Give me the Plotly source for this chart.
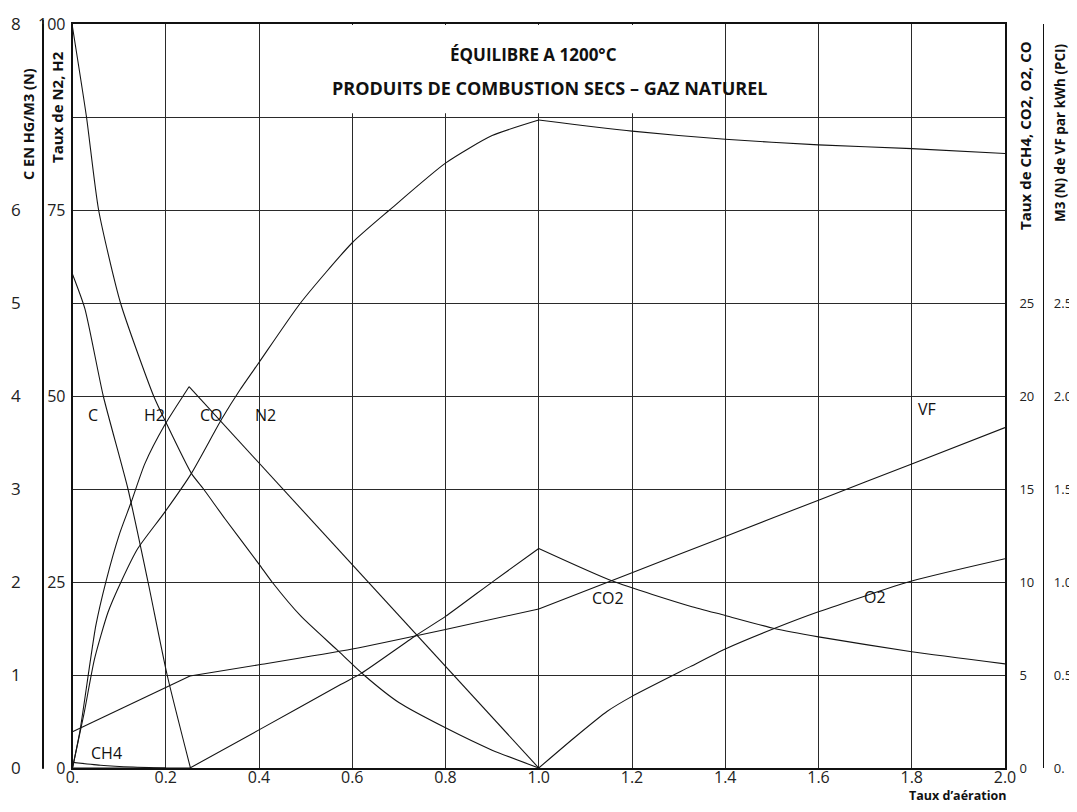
import plotly.graph_objects as go

# page has an 8px body margin: figure coordinates = page coordinates - 8
OFF = 8
W, H = 1077 - OFF, 812 - 2 * OFF
L_PLOT, R_PLOT, T_PLOT, B_PLOT = 72.5 - OFF, 1005 - OFF, 24 - OFF, 768 - OFF

# ---------------- data ----------------
aeration_ticks = [0, 0.2, 0.4, 0.6, 0.8, 1.0, 1.2, 1.4, 1.6, 1.8, 2.0]
aeration_labels = ["0.", "0.2", "0.4", "0.6", "0.8", "1.0", "1.2", "1.4", "1.6", "1.8", "2.0"]

# Carbone (hg/m3 (N)) - left outer axis 0..8
c_x = [0, 0.0265, 0.066, 0.119, 0.162, 0.203, 0.253]
c_y = [5.31, 4.94, 4.0, 3.0, 2.0, 1.0, 0.0]

# H2 (%) - axis 0..100
h2_x = [0, 0.03, 0.056, 0.103, 0.174, 0.2, 0.255, 0.281, 0.327, 0.4, 0.428, 0.49, 0.567, 0.625, 0.7, 0.8, 0.9, 1.0]
h2_y = [99.6, 87.5, 75.0, 62.5, 50.0, 46.5, 39.6, 37.5, 33.5, 27.4, 25.0, 20.4, 15.9, 12.5, 8.8, 5.4, 2.4, 0.0]

# N2 (%) - axis 0..100
n2_x = [0, 0.025, 0.047, 0.076, 0.104, 0.14, 0.198, 0.255, 0.32, 0.36, 0.4, 0.489, 0.6, 0.68, 0.8, 0.9, 1.0,
        1.2, 1.4, 1.6, 1.8, 2.0]
n2_y = [0, 7.4, 14.6, 20.9, 25.0, 29.5, 34.4, 39.6, 46.9, 50.9, 54.5, 62.5, 70.6, 75.0, 81.3, 85.0, 87.1,
        85.6, 84.5, 83.75, 83.25, 82.6]

# CO (%) - axis 0..40
co_x = [0, 0.016, 0.05, 0.072, 0.101, 0.126, 0.155, 0.198, 0.25, 1.0]
co_y = [0, 2.0, 7.65, 10.05, 12.6, 14.3, 16.35, 18.45, 20.5, 0.0]

# CO2 (%) - axis 0..40
co2_x = [0, 0.252, 0.4, 0.576, 0.62, 0.735, 0.8, 0.903, 1.0, 1.158, 1.325, 1.4, 1.505, 1.6, 1.8, 2.0]
co2_y = [0, 0.0, 2.05, 4.5, 5.1, 7.1, 8.15, 10.05, 11.8, 10.05, 8.7, 8.2, 7.5, 7.05, 6.25, 5.6]

# O2 (%) - axis 0..40
o2_x = [1.0, 1.075, 1.147, 1.2, 1.325, 1.4, 1.505, 1.6, 1.8, 2.0]
o2_y = [0.0, 1.6, 3.05, 3.85, 5.45, 6.4, 7.5, 8.4, 10.05, 11.25]

# CH4 (%) - axis 0..40
ch4_x = [0, 0.06, 0.13, 0.2]
ch4_y = [0.3, 0.15, 0.05, 0.0]

# VF (m3 (N) per kWh PCI) - axis 0..4
vf_x = [0, 0.252, 0.4, 0.6, 0.8, 1.0, 1.2, 1.4, 1.6, 1.8, 2.0]
vf_y = [0.195, 0.495, 0.555, 0.64, 0.745, 0.855, 1.05, 1.245, 1.44, 1.635, 1.83]

c_ticks = [0, 1, 2, 3, 4, 5, 6, 7, 8]
c_ticktext = ["0", "1", "2", "3", "4", "5", "6", "", "8"]
pct_ticks = [0, 25, 50, 75, 100]
gas_ticks = [0, 5, 10, 15, 20, 25]
vf_ticks = [0, 0.5, 1.0, 1.5, 2.0, 2.5]
vf_ticktext = ["0.", "0.5", "1.0", "1.5", "2.0", "2.5"]

# ---------------- figure ----------------
LINE = dict(color="#141414", width=1.1)
fig = go.Figure()


def add_curve(xs, ys, axis, kinks=()):
    """plot a series, smooth between kink points"""
    cuts = [0] + [xs.index(k) for k in kinks] + [len(xs) - 1]
    for a, b in zip(cuts[:-1], cuts[1:]):
        fig.add_trace(go.Scatter(x=xs[a:b + 1], y=ys[a:b + 1], yaxis=axis, mode="lines",
                                 line=dict(shape="spline", smoothing=0.6, **LINE),
                                 hoverinfo="skip", showlegend=False))


add_curve(c_x, c_y, "y")
add_curve(h2_x, h2_y, "y2")
add_curve(n2_x, n2_y, "y2", kinks=(1.0,))
add_curve(co_x, co_y, "y3", kinks=(0.25,))
add_curve(co2_x, co2_y, "y3", kinks=(0.252, 1.0))
add_curve(o2_x, o2_y, "y3")
add_curve(ch4_x, ch4_y, "y3")
add_curve(vf_x, vf_y, "y4", kinks=(0.252, 1.0))

FONT = "Open Sans, Noto Sans, DejaVu Sans, sans-serif"
GRID = "#2a2a2a"
AX = "#111111"
TICKC = "#222"

fig.update_layout(
    template="none",
    width=W, height=H,
    margin=dict(l=0, r=0, t=T_PLOT, b=H - B_PLOT, pad=0, autoexpand=False),
    paper_bgcolor="white", plot_bgcolor="white",
    showlegend=False,
    font=dict(family=FONT, color="#111"),
    xaxis=dict(domain=[L_PLOT / W, R_PLOT / W], range=[0, 2], tickvals=aeration_ticks,
               ticktext=aeration_labels, showgrid=True, gridcolor=GRID, gridwidth=1.2,
               showline=True, mirror=True, linecolor=AX, linewidth=1.6, zeroline=False,
               ticks="", tickfont=dict(size=16, color=TICKC), ticklabelstandoff=-6,
               automargin=False),
    yaxis=dict(range=[0, 8], anchor="free", position=(43 - OFF) / W, side="left",
               tickvals=c_ticks, ticktext=c_ticktext, showgrid=True, gridcolor=GRID, gridwidth=1.2,
               showline=True, linecolor=AX, linewidth=1.6, zeroline=False, ticks="",
               tickfont=dict(size=17, color=TICKC), ticklabelstandoff=18, automargin=False),
    yaxis2=dict(range=[0, 100], overlaying="y", anchor="x", side="left", tickvals=pct_ticks,
                showgrid=False, showline=True, linecolor=AX, linewidth=1.6, zeroline=False,
                ticks="", tickfont=dict(size=16, color=TICKC), ticklabelstandoff=2,
                automargin=False),
    yaxis3=dict(range=[0, 40], overlaying="y", anchor="x", side="right", tickvals=gas_ticks,
                showgrid=False, showline=True, linecolor=AX, linewidth=1.6, zeroline=False,
                ticks="", tickfont=dict(size=13, color=TICKC), ticklabelstandoff=10,
                automargin=False),
    yaxis4=dict(range=[0, 4], overlaying="y", anchor="free", position=(1043 - OFF) / W, side="right",
                tickvals=vf_ticks, ticktext=vf_ticktext, showgrid=False, showline=True,
                linecolor=AX, linewidth=1.4, zeroline=False, ticks="",
                tickfont=dict(size=13, color=TICKC), ticklabelstandoff=7, automargin=False),
)

# white box behind the title (hides the grid there)
fig.add_shape(type="rect", xref="x", yref="y", x0=0.5, x1=1.3, y0=7.04, y1=7.99,
              fillcolor="white", line=dict(width=0), layer="between")


def px(pix):
    return (pix - OFF) / W


def py(pix):
    return (B_PLOT - (pix - OFF)) / (B_PLOT - T_PLOT)


# outer left axis line (C scale)
fig.add_shape(type="line", xref="paper", yref="paper", x0=px(43), x1=px(43), y0=py(769), y1=py(20),
              line=dict(color=AX, width=1.6), layer="above")

texts = [("<b>ÉQUILIBRE A 1200°C</b>", 533, 55, 17),
         ("<b>PRODUITS DE COMBUSTION SECS – GAZ NATUREL</b>", 549, 88, 18),
         ("<b>Taux d’aération</b>", 957, 795, 12.5)]
for t, xx, yy, s in texts:
    fig.add_annotation(text=t, x=px(xx), y=py(yy), xref="paper", yref="paper",
                       showarrow=False, xanchor="center", yanchor="middle",
                       font=dict(size=s, color="#111", family=FONT))

titles = [("<b>C EN HG/M3 (N)</b>", 28, 124, 14.5),
          ("<b>Taux de N2, H2</b>", 57, 107, 15),
          ("<b>Taux de CH4, CO2, O2, CO</b>", 1025, 136, 15),
          ("<b>M3 (N) de VF par kWh (PCI)</b>", 1060, 133, 13.5)]
for t, xx, yy, s in titles:
    fig.add_annotation(text=t, x=px(xx), y=py(yy), xref="paper", yref="paper", textangle=-90,
                       showarrow=False, xanchor="center", yanchor="middle",
                       font=dict(size=s, color="#111", family=FONT))

curve_labels = [("C", 0.044, 3.80), ("H2", 0.175, 3.80), ("CO", 0.299, 3.80), ("N2", 0.413, 3.80),
                ("CH4", 0.073, 0.16), ("CO2", 1.148, 1.83), ("O2", 1.722, 1.84), ("VF", 1.832, 3.86)]
for t, xx, yy in curve_labels:
    fig.add_annotation(text=t, x=xx, y=yy, xref="x", yref="y", showarrow=False,
                       xanchor="center", yanchor="middle",
                       font=dict(size=16, color="#111", family=FONT))

fig.write_html("out.html")
